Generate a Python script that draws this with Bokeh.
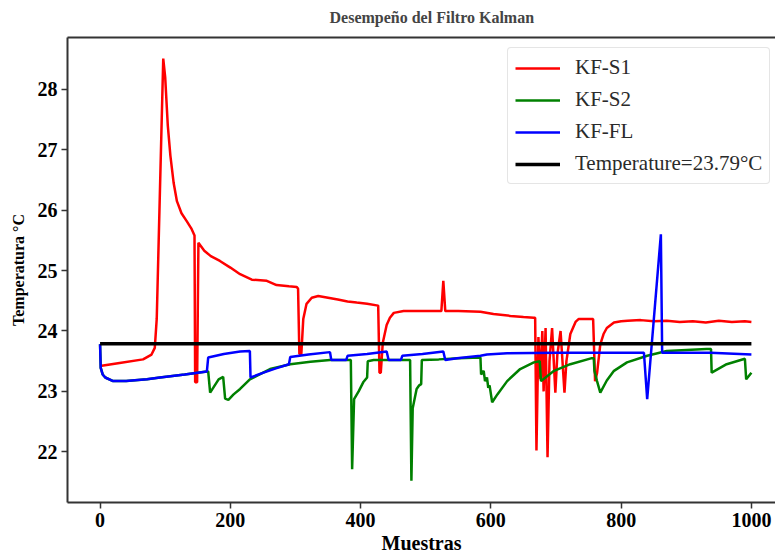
from bokeh.plotting import figure
from bokeh.models import Range1d, FixedTicker, LinearAxis, Legend, LegendItem
from bokeh.embed import file_html
from bokeh.resources import INLINE

# ---- data ----
s1_x = [0, 30, 66, 79, 84, 87, 97, 100, 104, 108, 113, 118, 125, 133, 140, 145, 146, 149, 151,
        160, 170, 184, 200, 215, 233, 256, 271, 290, 302, 304, 306, 309, 312, 317, 325, 335, 350,
        365, 380, 394, 410, 427, 429, 431, 434, 440, 445, 451, 466, 490, 524, 527, 530, 550, 584,
        604, 630, 650, 666, 668, 670, 673, 676, 679, 681, 684, 687, 690, 694, 699, 702, 707, 713,
        716, 722, 730, 735, 757, 760, 763, 768, 773, 778, 789, 800, 810, 830, 850, 870, 890, 910,
        930, 950, 970, 990, 1000]
s1_y = [23.42, 23.47, 23.53, 23.61, 23.72, 24.2, 28.51, 28.2, 27.4, 26.9, 26.45, 26.15, 25.95,
        25.82, 25.7, 25.58, 23.15, 23.15, 25.46, 25.33, 25.24, 25.16, 25.05, 24.94, 24.85, 24.83,
        24.76, 24.74, 24.73, 24.7, 23.62, 23.62, 24.2, 24.45, 24.55, 24.58, 24.55, 24.52, 24.49,
        24.47, 24.45, 24.42, 23.31, 23.31, 23.8, 24.1, 24.22, 24.30, 24.33, 24.33, 24.33, 24.83,
        24.33, 24.33, 24.32, 24.28, 24.25, 24.23, 24.22, 24.22, 22.02, 23.9, 23.2, 24.0, 23.0,
        24.05, 21.91, 23.5, 24.05, 22.98, 23.6, 24.0, 22.98, 23.5, 23.95, 24.15, 24.2, 24.2,
        23.17, 23.3, 23.78, 23.95, 24.05, 24.14, 24.16, 24.17, 24.18, 24.16, 24.17, 24.15, 24.16,
        24.14, 24.17, 24.15, 24.16, 24.15]

s2_x = [0, 1, 4, 8, 20, 40, 72, 92, 130, 164, 166, 169, 182, 189, 192, 197, 205, 215, 230, 245,
        261, 292, 323, 353, 385, 387, 390, 397, 404, 410, 411, 420, 450, 476, 478, 480, 486, 490,
        493, 494, 520, 550, 584, 585, 589, 591, 594, 596, 598, 602, 610, 625, 645, 666, 675, 677,
        697, 722, 755, 758, 759, 763, 768, 778, 789, 809, 840, 870, 931, 938, 939, 962, 990, 992,
        1000]
s2_y = [23.78, 23.39, 23.28, 23.23, 23.17, 23.17, 23.2, 23.23, 23.28, 23.33, 23.33, 22.98, 23.2,
        23.24, 22.88, 22.86, 22.95, 23.04, 23.2, 23.28, 23.37, 23.45, 23.49, 23.52, 23.52, 21.71,
        22.87, 23.0, 23.15, 23.23, 23.5, 23.52, 23.52, 23.52, 21.52, 22.72, 23.04, 23.1, 23.12,
        23.52, 23.53, 23.55, 23.56, 23.28, 23.34, 23.17, 23.23, 23.06, 23.1, 22.82, 22.95, 23.17,
        23.37, 23.48, 23.5, 23.17, 23.34, 23.45, 23.55, 23.55, 23.34, 23.17, 22.98, 23.18, 23.34,
        23.48, 23.59, 23.67, 23.7, 23.7, 23.31, 23.45, 23.54, 23.2, 23.31]

fl_x = [0, 1, 4, 8, 20, 40, 72, 92, 130, 164, 166, 190, 215, 230, 231, 251, 270, 290, 292, 320,
        353, 355, 378, 380, 410, 440, 443, 462, 464, 495, 527, 530, 548, 584, 594, 625, 700, 835,
        840, 861, 863, 937, 1000]
fl_y = [23.78, 23.39, 23.28, 23.23, 23.17, 23.17, 23.2, 23.23, 23.28, 23.33, 23.56, 23.62, 23.66,
        23.67, 23.23, 23.31, 23.38, 23.45, 23.57, 23.61, 23.65, 23.52, 23.52, 23.59, 23.62, 23.66,
        23.52, 23.52, 23.59, 23.62, 23.66, 23.52, 23.55, 23.59, 23.61, 23.63, 23.64, 23.64, 22.87,
        25.6, 23.64, 23.64, 23.61]

ref_x = [0, 1000]
ref_temp = 23.79

x_ticks = [0, 200, 400, 600, 800, 1000]
y_ticks = [22, 23, 24, 25, 26, 27, 28]

labels = ["KF-S1", "KF-S2", "KF-FL", "Temperature=23.79°C"]
colors = ["#ff0000", "#008000", "#0000ff", "#000000"]

SERIF = "Liberation Serif"

p = figure(width=775, height=557, output_backend="svg", toolbar_location=None,
           x_range=Range1d(-50, 1037), y_range=Range1d(21.16, 28.86),
           min_border_left=67, min_border_right=0, min_border_top=36, min_border_bottom=55)
p.outline_line_color = None
p.xgrid.visible = False
p.ygrid.visible = False
p.background_fill_color = "white"
p.border_fill_color = "white"

p.title.text = "Desempeño del Filtro Kalman"
p.title.text_font = SERIF
p.title.text_font_style = "bold"
p.title.text_font_size = "16px"
p.title.align = "left"
p.title.offset = 262
p.title.standoff = 12

bottom_axis = p.below[0]
left_axis = p.left[0]

top_axis = LinearAxis(major_tick_line_color=None, minor_tick_line_color=None,
                      major_label_text_font_size="0px", major_label_standoff=0,
                      axis_line_width=2, axis_line_color="#333333")
top_axis.major_label_text_color = None
p.add_layout(top_axis, "above")

for ax in (bottom_axis, left_axis):
    ax.axis_line_width = 2
    ax.axis_line_color = "#333333"
    ax.major_tick_line_width = 1.5
    ax.major_tick_line_color = "#333333"
    ax.major_tick_out = 6
    ax.major_tick_in = 0
    ax.minor_tick_line_color = None
    ax.major_label_text_font = SERIF
    ax.major_label_text_font_style = "bold"
    ax.major_label_text_font_size = "20px"
    ax.major_label_text_color = "black"
    ax.axis_label_text_font = SERIF
    ax.axis_label_text_font_style = "bold"
    ax.axis_label_text_color = "black"

bottom_axis.ticker = FixedTicker(ticks=x_ticks)
left_axis.ticker = FixedTicker(ticks=y_ticks)
bottom_axis.axis_label = "Muestras"
bottom_axis.axis_label_text_font_size = "20px"
bottom_axis.major_label_standoff = 4
bottom_axis.axis_label_standoff = 2
left_axis.axis_label = "Temperatura °C"
left_axis.axis_label_text_font_size = "16px"
left_axis.major_label_standoff = 4
left_axis.axis_label_standoff = 8

r1 = p.line(s1_x, s1_y, line_color=colors[0], line_width=2.5)
r2 = p.line(s2_x, s2_y, line_color=colors[1], line_width=2.5)
r3 = p.line(fl_x, fl_y, line_color=colors[2], line_width=2.5)
r4 = p.line(ref_x, [ref_temp, ref_temp], line_color=colors[3], line_width=3.5)

legend = Legend(items=[LegendItem(label=l, renderers=[r]) for l, r in zip(labels, [r1, r2, r3, r4])],
                location=(440, 318))
legend.label_text_font = SERIF
legend.label_text_font_size = "21px"
legend.label_text_color = "#2a2a2a"
legend.glyph_width = 45
legend.glyph_height = 24
legend.label_height = 24
legend.label_standoff = 15
legend.spacing = 7
legend.padding = 7
legend.margin = 0
legend.border_line_color = "#cccccc"
legend.border_line_width = 1.5
legend.background_fill_alpha = 1.0
if "border_radius" in Legend.properties():
    legend.border_radius = 4
p.add_layout(legend)

open("out.html", "w").write(file_html(p, INLINE))
